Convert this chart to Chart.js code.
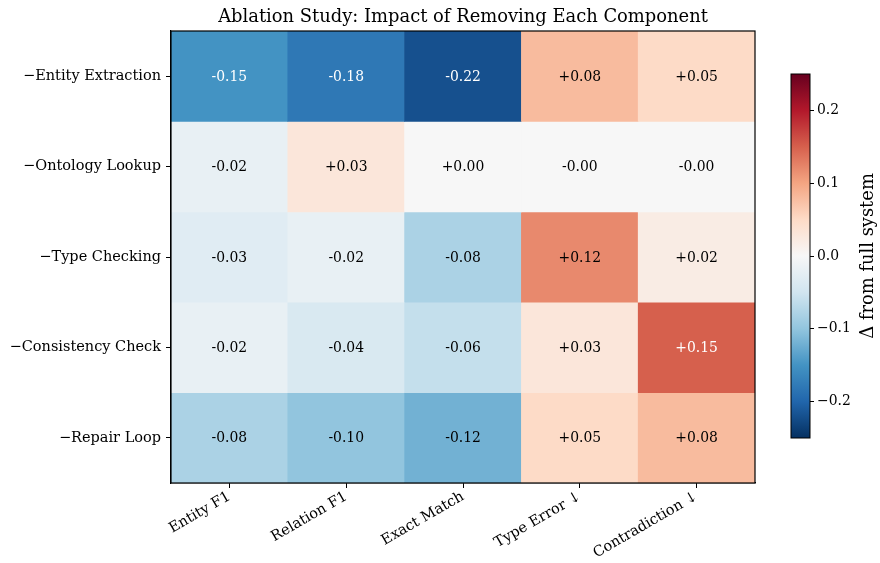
<!DOCTYPE html>
<html>
<head>
<meta charset="utf-8">
<script src="https://cdn.jsdelivr.net/npm/chart.js@4/dist/chart.umd.min.js"></script>
<style>
  html, body { margin: 0; padding: 0; background: #fff; }
  #wrap { position: relative; width: 880px; height: 563px; }
  #wrap canvas { position: absolute; left: 0; top: 0; }
  #cbar { pointer-events: none; }
</style>
</head>
<body>
<div id="wrap">
  <canvas id="heat" width="880" height="563"></canvas>
  <canvas id="cbar" width="880" height="563"></canvas>
</div>
<script>
// Ablation deltas: one row per removed component, one column per metric
const components = ['\u2212Entity Extraction', '\u2212Ontology Lookup', '\u2212Type Checking', '\u2212Consistency Check', '\u2212Repair Loop'];
const metrics = ['Entity F1', 'Relation F1', 'Exact Match', 'Type Error \u2193', 'Contradiction \u2193'];
const entityExtraction = [-0.15, -0.18, -0.22, 0.08, 0.05];
const ontologyLookup   = [-0.02, 0.03, 0.00, -0, -0];
const typeChecking     = [-0.03, -0.02, -0.08, 0.12, 0.02];
const consistencyCheck = [-0.02, -0.04, -0.06, 0.03, 0.15];
const repairLoop       = [-0.08, -0.10, -0.12, 0.05, 0.08];
const rows = [entityExtraction, ontologyLookup, typeChecking, consistencyCheck, repairLoop];
const colorbarTicks = [-0.2, -0.1, 0.0, 0.1, 0.2];
const vmin = -0.25, vmax = 0.25;

const FONT = "'DejaVu Serif', serif";
const TICK_SIZE = 14.5;
const CBAR_TICK_SIZE = 13.9;
const TITLE_SIZE = 17.9;

// Diverging red-blue palette (blue = negative, red = positive)
const palette = ['#053061', '#2166ac', '#4393c3', '#92c5de', '#d1e5f0', '#f7f7f7',
                 '#fddbc7', '#f4a582', '#d6604d', '#b2182b', '#67001f'];
function hexToRgb(h) { return [1, 3, 5].map(i => parseInt(h.substr(i, 2), 16)); }
const paletteRgb = palette.map(hexToRgb);
function colorFor(v) {
  let t = (v - vmin) / (vmax - vmin);
  t = Math.max(0, Math.min(1, t));
  const pos = t * (palette.length - 1);
  const i = Math.min(palette.length - 2, Math.floor(pos));
  const f = pos - i;
  const a = paletteRgb[i], b = paletteRgb[i + 1];
  const c = a.map((x, k) => Math.round(x + (b[k] - x) * f));
  return `rgb(${c[0]},${c[1]},${c[2]})`;
}
function fmtCell(v) {
  if (Object.is(v, -0)) return '-0.00';
  return (v >= 0 ? '+' : '-') + Math.abs(v).toFixed(2);
}

// Writes each cell's value at the centre of its bar, frames the grid, adds the title
const cellText = {
  id: 'cellText',
  afterDatasetsDraw(chart) {
    const ctx = chart.ctx;
    ctx.save();
    ctx.font = `13.9px ${FONT}`;
    ctx.textAlign = 'center';
    ctx.textBaseline = 'middle';
    chart.data.datasets.forEach((ds, di) => {
      const meta = chart.getDatasetMeta(di);
      meta.data.forEach((bar, ci) => {
        const v = rows[di][ci];
        ctx.fillStyle = Math.abs(v) > 0.12 ? '#ffffff' : '#000000';
        ctx.fillText(fmtCell(v), bar.x, (bar.y + bar.base) / 2 + 1);
      });
    });
    const a = chart.chartArea;
    ctx.strokeStyle = '#000';
    ctx.lineWidth = 1.2;
    ctx.strokeRect(a.left, a.top, a.right - a.left, a.bottom - a.top);
    ctx.font = `${TITLE_SIZE}px ${FONT}`;
    ctx.fillStyle = '#000';
    ctx.textBaseline = 'alphabetic';
    ctx.fillText('Ablation Study: Impact of Removing Each Component', (a.left + a.right) / 2, 22);
    ctx.restore();
  }
};

new Chart(document.getElementById('heat'), {
  type: 'bar',
  data: {
    labels: metrics,
    datasets: rows.map((vals, r) => ({
      label: components[r],
      data: vals.map(() => 1),
      backgroundColor: vals.map(colorFor),
      borderWidth: 0,
      barPercentage: 1,
      categoryPercentage: 1,
      stack: 'grid'
    }))
  },
  options: {
    responsive: false,
    devicePixelRatio: 1,
    animation: false,
    events: [],
    layout: { padding: { left: 0, top: 31, right: 125, bottom: 0 } },
    plugins: { legend: { display: false }, tooltip: { enabled: false }, title: { display: false } },
    scales: {
      x: {
        type: 'category',
        stacked: true,
        offset: true,
        grid: { offset: false, drawOnChartArea: false, drawTicks: true, tickLength: 5, color: '#000', lineWidth: 1 },
        border: { display: true, color: '#000', width: 1.2 },
        ticks: { color: '#000', font: { family: FONT, size: TICK_SIZE }, minRotation: 30, maxRotation: 30, padding: 0, autoSkip: false },
        afterFit(scale) { scale.height = 80; }
      },
      y: {
        type: 'linear',
        stacked: true,
        min: 0,
        max: rows.length,
        reverse: true,
        grid: { drawOnChartArea: false, drawTicks: true, tickLength: 5, color: '#000', lineWidth: 1 },
        border: { display: true, color: '#000', width: 1.2 },
        ticks: {
          color: '#000',
          font: { family: FONT, size: TICK_SIZE },
          padding: 5,
          autoSkip: false,
          callback: (value) => components[Math.floor(value)]
        },
        afterBuildTicks(scale) { scale.ticks = rows.map((_, i) => ({ value: i + 0.5 })); },
        afterFit(scale) { scale.width = 171; }
      }
    }
  },
  plugins: [cellText]
});

// Colour bar: one floating bar spanning the full value range, filled with the palette
const cbarDecor = {
  id: 'cbarDecor',
  afterDatasetsDraw(chart) {
    const ctx = chart.ctx;
    const a = chart.chartArea;
    ctx.save();
    ctx.strokeStyle = '#000';
    ctx.lineWidth = 1;
    ctx.strokeRect(a.left, a.top, a.right - a.left, a.bottom - a.top);
    ctx.translate(868, (a.top + a.bottom) / 2);
    ctx.rotate(-Math.PI / 2);
    ctx.font = `${TITLE_SIZE}px ${FONT}`;
    ctx.fillStyle = '#000';
    ctx.textAlign = 'center';
    ctx.textBaseline = 'middle';
    ctx.fillText('\u0394 from full system', 0, 0);
    ctx.restore();
  }
};

new Chart(document.getElementById('cbar'), {
  type: 'bar',
  data: {
    labels: [''],
    datasets: [{
      data: [[vmin, vmax]],
      backgroundColor(ctx) {
        const a = ctx.chart.chartArea;
        if (!a) return '#f7f7f7';
        const g = ctx.chart.ctx.createLinearGradient(0, a.bottom, 0, a.top);
        palette.forEach((c, i) => g.addColorStop(i / (palette.length - 1), c));
        return g;
      },
      borderWidth: 0,
      barPercentage: 1,
      categoryPercentage: 1
    }]
  },
  options: {
    responsive: false,
    devicePixelRatio: 1,
    animation: false,
    events: [],
    layout: { padding: { left: 791, top: 74, right: 30, bottom: 125 } },
    plugins: { legend: { display: false }, tooltip: { enabled: false } },
    scales: {
      x: { display: false },
      y: {
        type: 'linear',
        position: 'right',
        min: vmin,
        max: vmax,
        grid: { drawOnChartArea: false, drawTicks: true, tickLength: 4, color: '#000', lineWidth: 1 },
        border: { display: false },
        ticks: {
          color: '#000',
          font: { family: FONT, size: CBAR_TICK_SIZE },
          padding: 3,
          callback: (v) => (v < -1e-9 ? '\u2212' : '') + Math.abs(v).toFixed(1)
        },
        afterBuildTicks(scale) { scale.ticks = colorbarTicks.map(v => ({ value: v })); },
        afterFit(scale) { scale.width = 40; }
      }
    }
  },
  plugins: [cbarDecor]
});
</script>
</body>
</html>
